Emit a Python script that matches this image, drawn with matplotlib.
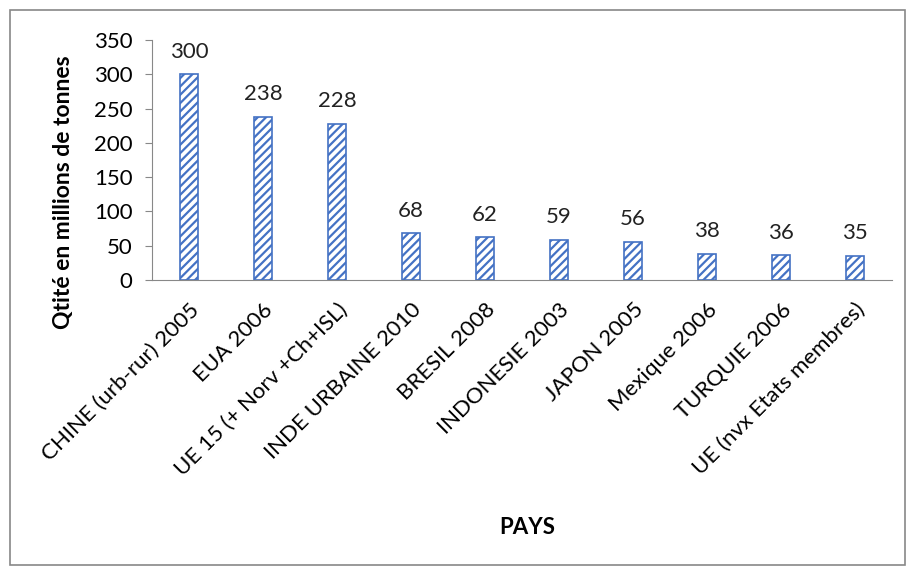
import matplotlib
matplotlib.use("Agg")
import matplotlib.pyplot as plt
from matplotlib.patches import Rectangle

categories = ["CHINE (urb-rur) 2005", "EUA 2006", "UE 15 (+ Norv +Ch+ISL)",
              "INDE URBAINE 2010", "BRESIL 2008", "INDONESIE 2003", "JAPON 2005",
              "Mexique 2006", "TURQUIE 2006", "UE (nvx Etats membres)"]
values = [300, 238, 228, 68, 62, 59, 56, 38, 36, 35]
yticks = [0, 50, 100, 150, 200, 250, 300, 350]

plt.rcParams['font.family'] = ['Lato', 'DejaVu Sans']
plt.rcParams['hatch.linewidth'] = 1.6

fig = plt.figure(figsize=(9.09, 5.71), dpi=100)
ax = fig.add_axes([152/909, 1-280/571, (892-152)/909, (280-40)/571])

x = list(range(len(categories)))
bars = ax.bar(x, values, width=0.25, facecolor='white', edgecolor='#4472C4',
              hatch='////', linewidth=1.2)
for xi, v in zip(x, values):
    ax.annotate(str(v), (xi, v), xytext=(0, 9), textcoords='offset points',
                ha='center', va='bottom', fontsize=16, color='#222222')

ax.set_xlim(-0.5, len(categories) - 0.5)
ax.set_ylim(0, 350)
ax.set_yticks(yticks)
ax.set_yticklabels([str(t) for t in yticks], fontsize=16)
ax.set_xticks(x)
ax.set_xticklabels(categories, rotation=45, ha='right', rotation_mode='anchor', fontsize=16)
ax.tick_params(axis='x', length=0, pad=14)
ax.tick_params(axis='y', length=5, direction='out', color='#888888', pad=9)
for s in ['top', 'right']:
    ax.spines[s].set_visible(False)
ax.spines['left'].set_color('#888888')
ax.spines['bottom'].set_color('#888888')

fig.text(64/909, 1-192/571, 'Qtité en millions de tonnes', rotation=90, ha='center', va='center',
         fontsize=16.5, fontweight='bold')
fig.text(527/909, 1-527/571, 'PAYS', ha='center', va='center', fontsize=16, fontweight='bold')

fig.patches.append(Rectangle((10/909, 1-565/571), 895/909, 555/571, transform=fig.transFigure,
                             fill=False, edgecolor='#888888', linewidth=1.2))

fig.savefig('out.png', dpi=100, facecolor='white')
